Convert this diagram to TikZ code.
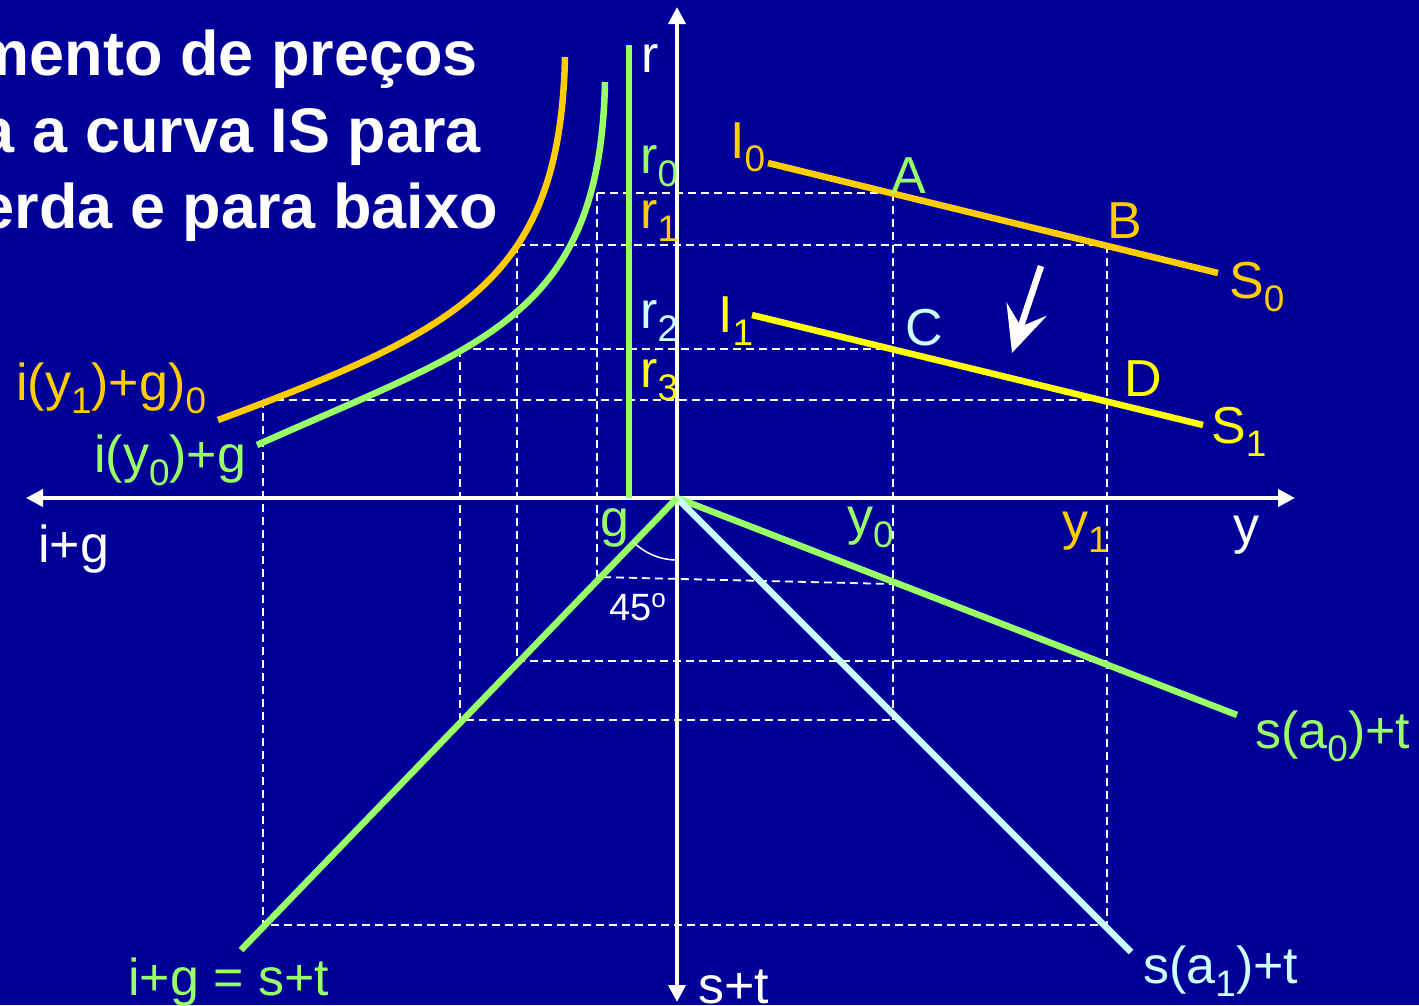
\documentclass[tikz,border=0pt]{standalone}
\usepackage{fontspec}
\setmainfont{Liberation Sans}
\usetikzlibrary{arrows.meta}
\definecolor{SlideBlue}{HTML}{000099}
\definecolor{CurveOrange}{HTML}{FFCC00}
\definecolor{CurveYellow}{HTML}{FFFF00}
\definecolor{CurveGreen}{HTML}{99FF66}
\definecolor{CurveCyan}{HTML}{CCFFFF}
\newcommand\dn[1]{\raisebox{-13pt}{\fontsize{37}{37}\selectfont #1}}
\newcommand\upo[1]{\raisebox{13pt}{\fontsize{26}{26}\selectfont #1}}

\begin{document}
\begin{tikzpicture}[
    x=1pt,y=-1pt,
    axis/.style={draw=white,line width=4pt},
    curve/.style={line width=6.5pt},
    guide/.style={draw=white,line width=1.8pt,dash pattern=on 8pt off 5pt},
    lbl/.style={anchor=base west,inner sep=0pt,font=\fontsize{52}{60}\selectfont},
    title/.style={anchor=base east,inner sep=0pt,text=white,font=\fontsize{63}{77}\selectfont\bfseries}
  ]
    \useasboundingbox (0,0) rectangle (1419,1005);
    \fill[SlideBlue] (0,0) rectangle (1419,1005);

    % title (cut by the frame)
    \node[title] (title1) at (478,75) {mento de preços};
    \node[title] (title2) at (481,152) {a a curva IS para};
    \node[title] (title3) at (498,228) {erda e para baixo};

    % key points
    \coordinate (O) at (677,498);
    \coordinate (A) at (893,193);
    \coordinate (B) at (1107,245);
    \coordinate (C) at (893,349);
    \coordinate (D) at (1107,400);
    \coordinate (gA) at (597,193);
    \coordinate (oB) at (517,245);
    \coordinate (gC) at (460,349);
    \coordinate (oD) at (263,400);
    \coordinate (fA) at (597,577);
    \coordinate (fB) at (517,661);
    \coordinate (fC) at (460,720);
    \coordinate (fD) at (263,925);
    \coordinate (sA) at (893,584);
    \coordinate (sB) at (1107,661);
    \coordinate (sC) at (893,720);
    \coordinate (sD) at (1107,925);

    % dashed guides
    \draw[guide] (gA) -- (A);
    \draw[guide] (oB) -- (B);
    \draw[guide] (gC) -- (C);
    \draw[guide] (oD) -- (D);
    \draw[guide] (gA) -- (fA) -- (sA);
    \draw[guide] (oB) -- (fB) -- (sB);
    \draw[guide] (gC) -- (fC) -- (sC);
    \draw[guide] (oD) -- (fD) -- (sD);
    \draw[guide] (A) -- (sC);
    \draw[guide] (B) -- (sD);

    % axes
    \coordinate (xl) at (26,498);
    \coordinate (xr) at (1295,498);
    \coordinate (yt) at (677,7);
    \coordinate (yb) at (677,1002);
    \draw[axis,{Triangle[length=17pt,width=17pt]}-{Triangle[length=17pt,width=17pt]}] (xl) -- (xr);
    \draw[axis,{Triangle[length=17pt,width=17pt]}-{Triangle[length=17pt,width=17pt]}] (yb) -- (yt);

    % g line
    \coordinate (gt) at (629,45);
    \coordinate (gb) at (629,498);
    \draw[curve,CurveGreen] (gt) -- (gb);

    % investment curves
    \draw[curve,CurveOrange] (565,57) .. controls (560,280) and (460,330) .. (218,420);
    \draw[curve,CurveGreen] (605,82) .. controls (600,320) and (480,345) .. (257,445);

    % IS lines
    \coordinate (I0) at (768,163);
    \coordinate (S0) at (1218,273);
    \coordinate (I1) at (752,315);
    \coordinate (S1) at (1203,425);
    \draw[curve,CurveOrange] (I0) -- (S0);
    \draw[curve,CurveYellow] (I1) -- (S1);

    % savings lines and 45 degree line
    \coordinate (sa0) at (1237,715);
    \coordinate (sa1) at (1131,952);
    \coordinate (ff) at (241,950);
    \draw[curve,CurveGreen] (O) -- (sa0);
    \draw[curve,CurveCyan] (O) -- (sa1);
    \draw[curve,CurveGreen] (O) -- (ff);
    \draw[white,line width=1.5pt] (O) ++(225:62pt) arc[start angle=225,end angle=270,radius=62pt];

    % shift arrow
    \coordinate (sh1) at (1041,266);
    \coordinate (sh2) at (1012,353);
    \draw[white,line width=6.5pt,-{Stealth[length=46pt,width=42pt,inset=18pt]}] (sh1) -- (sh2);

    % labels
    \node[lbl,text=white] (rlab) at (641,72) {r};
    \node[lbl,text=CurveGreen] (r0lab) at (640,173) {r\dn{0}};
    \node[lbl,text=CurveOrange] (r1lab) at (640,228) {r\dn{1}};
    \node[lbl,text=CurveCyan] (r2lab) at (640,328) {r\dn{2}};
    \node[lbl,text=CurveYellow] (r3lab) at (640,387) {r\dn{3}};
    \node[lbl,text=CurveOrange] (I0lab) at (730,158) {I\dn{0}};
    \node[lbl,text=CurveYellow] (I1lab) at (718,332) {I\dn{1}};
    \node[lbl,text=CurveGreen] (Alab) at (891,193) {A};
    \node[lbl,text=CurveOrange] (Blab) at (1107,238) {B};
    \node[lbl,text=CurveCyan] (Clab) at (905,345) {C};
    \node[lbl,text=CurveYellow] (Dlab) at (1124,396) {D};
    \node[lbl,text=CurveOrange] (S0lab) at (1229,298) {S\dn{0}};
    \node[lbl,text=CurveYellow] (S1lab) at (1211,443) {S\dn{1}};
    \node[lbl,text=CurveOrange] (iy1lab) at (16,400) {i(y\dn{1})+g)\dn{0}};
    \node[lbl,text=CurveGreen] (iy0lab) at (94,472) {i(y\dn{0})+g};
    \node[lbl,text=white] (iglab) at (38,562) {i+g};
    \node[lbl,text=CurveGreen] (glab) at (600,536) {g};
    \node[lbl,text=CurveGreen] (y0lab) at (847,534) {y\dn{0}};
    \node[lbl,text=CurveOrange] (y1lab) at (1062,539) {y\dn{1}};
    \node[lbl,text=white] (ylab) at (1233,543) {y};
    \node[lbl,text=white,font=\fontsize{38}{40}\selectfont] (anglab) at (609,620) {45\upo{o}};
    \node[lbl,text=CurveGreen] (sa0lab) at (1255,748) {s(a\dn{0})+t};
    \node[lbl,text=CurveCyan] (sa1lab) at (1143,983) {s(a\dn{1})+t};
    \node[lbl,text=CurveGreen] (eqlab) at (128,995) {i+g = s+t};
    \node[lbl,text=white] (stlab) at (698,1003) {s+t};
\end{tikzpicture}
\end{document}
